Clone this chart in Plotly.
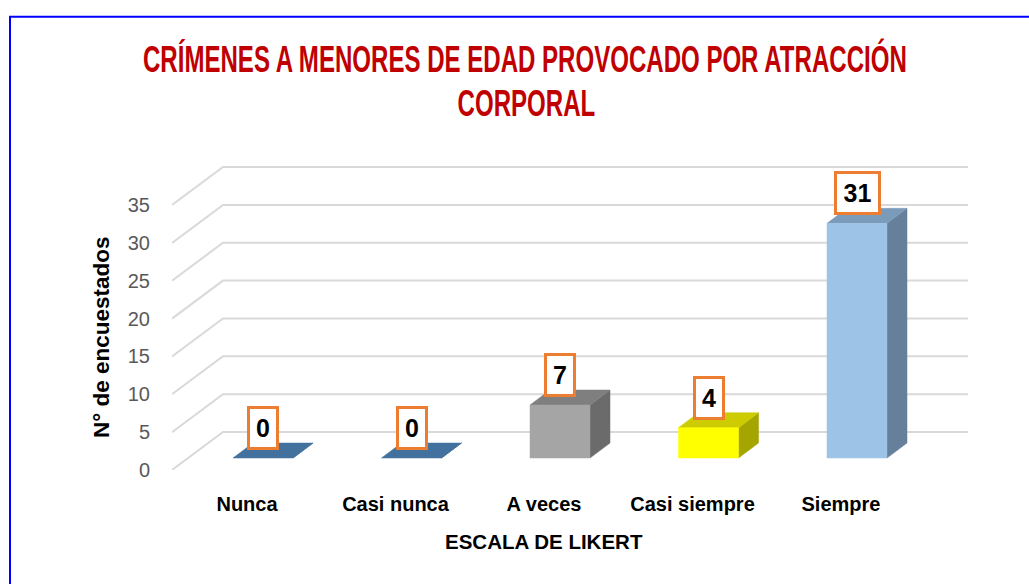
import json
import plotly.graph_objects as go

# ---------------- data ----------------
categories = ["Nunca", "Casi nunca", "A veces", "Casi siempre", "Siempre"]
values = [0, 0, 7, 4, 31]
y_ticks = [0, 5, 10, 15, 20, 25, 30, 35]
title_lines = ["CRÍMENES A MENORES DE EDAD PROVOCADO POR ATRACCIÓN", "CORPORAL"]
x_title = "ESCALA DE LIKERT"
y_title = "N° de encuestados"

# ---------------- styles ----------------
front_colors = ["#5B9BD5", "#5B9BD5", "#A5A5A5", "#FFFF00", "#9DC3E6"]
top_colors = ["#41719C", "#41719C", "#7F7F7F", "#CCCC00", "#7B9BBA"]
side_colors = ["#41719C", "#41719C", "#6B6B6B", "#A5A500", "#667F9A"]
GRID = "#D9D9D9"

W, H = 1029, 584
PL, PR, PT, PB = 172, 980, 150, 470      # plot area in px
XC0, XS = 263.0, 148.5                   # px of category 0, px per category
Y0, YS = 458.0, 7.57                     # px of value 0 on bar plane, px per unit

x_range = [(PL - XC0) / XS, (PR - XC0) / XS]
y_range = [(Y0 - PB) / YS, (Y0 - PT) / YS]

# depth offsets (px -> data units)
FRONT_DX, FRONT_DY = -16 / XS, -12 / YS
BACK_DX, BACK_DY = 35 / XS, 26 / YS
BAR_HW = 30 / XS
BAR_DX, BAR_DY = 20 / XS, 15 / YS
BACK_RIGHT = (968 - XC0) / XS


def xp(px):
    return (px - PL) / (PR - PL)


def yp(py):
    return (PB - py) / (PB - PT)


fig = go.Figure()

# gridlines: side-wall diagonals + back-wall horizontals
xl_front = x_range[0]
xl_back = x_range[0] + (BACK_DX - FRONT_DX)
for v in y_ticks:
    fig.add_trace(go.Scatter(
        x=[xl_front, xl_back, BACK_RIGHT],
        y=[v + FRONT_DY, v + BACK_DY, v + BACK_DY],
        mode="lines", line=dict(color=GRID, width=2),
        hoverinfo="skip", showlegend=False))

# 3D bars
for i, v in enumerate(values):
    xl, xr = i - BAR_HW, i + BAR_HW
    # side
    fig.add_trace(go.Scatter(
        x=[xr, xr + BAR_DX, xr + BAR_DX, xr, xr],
        y=[0, BAR_DY, v + BAR_DY, v, 0],
        fill="toself", fillcolor=side_colors[i], mode="lines",
        line=dict(color=side_colors[i], width=0.5),
        hoverinfo="skip", showlegend=False))
    # top
    fig.add_trace(go.Scatter(
        x=[xl, xr, xr + BAR_DX, xl + BAR_DX, xl],
        y=[v, v, v + BAR_DY, v + BAR_DY, v],
        fill="toself", fillcolor=top_colors[i], mode="lines",
        line=dict(color=top_colors[i], width=0.5),
        hoverinfo="skip", showlegend=False))
    # front
    if v > 0:
        fig.add_trace(go.Scatter(
            x=[xl, xr, xr, xl, xl],
            y=[0, 0, v, v, 0],
            fill="toself", fillcolor=front_colors[i], mode="lines",
            line=dict(color=front_colors[i], width=0.5),
            hoverinfo="skip", showlegend=False))

# invisible trace on the front-plane axes (category labels / ticks)
fig.add_trace(go.Scatter(
    x=list(range(len(categories))), y=values, xaxis="x2", yaxis="y2",
    mode="markers", marker=dict(opacity=0), hoverinfo="skip", showlegend=False))

# data labels
for i, v in enumerate(values):
    n = len(str(v))
    fig.add_annotation(
        x=i, y=v, xref="x", yref="y", text="<b>%d</b>" % v, showarrow=False,
        yanchor="bottom", yshift=8, xanchor="center",
        font=dict(family="Liberation Sans", size=25, color="black"),
        bgcolor="white", bordercolor="#ED7D31", borderwidth=3, borderpad=0,
        width=15 * n + 11, height=38)

LABEL_FONT = dict(family="Liberation Sans", size=20, color="black")

fig.update_layout(
    width=W, height=H,
    margin=dict(l=PL, r=W - PR, t=PT, b=H - PB, pad=0),
    paper_bgcolor="white", plot_bgcolor="white",
    xaxis=dict(range=x_range, visible=False, fixedrange=True),
    yaxis=dict(range=y_range, visible=False, fixedrange=True),
    xaxis2=dict(range=[x_range[0] - FRONT_DX, x_range[1] - FRONT_DX],
                overlaying="x", anchor="y2", side="bottom",
                tickvals=list(range(len(categories))),
                ticktext=["<b>%s</b>" % c for c in categories],
                tickfont=LABEL_FONT, showgrid=False, zeroline=False,
                showline=False, ticks="outside", ticklen=16,
                tickcolor="rgba(0,0,0,0)", fixedrange=True),
    yaxis2=dict(range=[y_range[0] - FRONT_DY, y_range[1] - FRONT_DY],
                overlaying="y", anchor="x2", side="left",
                tickvals=y_ticks, tickfont=dict(family="Liberation Sans", size=20, color="#595959"),
                showgrid=False, zeroline=False, showline=False,
                ticks="outside", ticklen=17, tickcolor="rgba(0,0,0,0)", fixedrange=True),
    showlegend=False,
)

# title (two lines, condensed afterwards to mimic the narrow display face)
TITLE_FONT = dict(family="Liberation Sans", size=26, color="#C00000")
fig.add_annotation(
    xref="paper", yref="paper", x=xp(525), y=yp(59), yanchor="middle", xanchor="center",
    text="<b>%s</b>" % title_lines[0], showarrow=False, font=TITLE_FONT)
fig.add_annotation(
    xref="paper", yref="paper", x=xp(526), y=yp(102.5), yanchor="middle", xanchor="center",
    text="<b>%s</b>" % title_lines[1], showarrow=False, font=TITLE_FONT)

# axis titles
fig.add_annotation(
    xref="paper", yref="paper", x=xp(544), y=yp(541), xanchor="center", yanchor="middle",
    text="<b>%s</b>" % x_title, showarrow=False,
    font=dict(family="Liberation Sans", size=20.5, color="black"))
fig.add_annotation(
    xref="paper", yref="paper", x=xp(101), y=yp(337), xanchor="center", yanchor="middle",
    text="<b>%s</b>" % y_title, showarrow=False, textangle=-90,
    font=dict(family="Liberation Sans", size=22.5, color="black"))

# blue frame
fig.add_shape(type="rect", xref="paper", yref="paper",
              x0=xp(10), x1=xp(1045), y0=yp(16.7), y1=yp(600),
              line=dict(color="#0000FF", width=2), fillcolor="rgba(0,0,0,0)", layer="above")

post = """
document.body.style.margin='0';
(function(){
  var lines = %s;
  var targetW = 764, capH = 26.5, fs = 26;
  var sy = capH / (0.716 * fs);
  var gd = document.getElementById('{plot_id}');
  var texts = gd.querySelectorAll('text.annotation-text');
  var sx = null;
  var found = [];
  texts.forEach(function(t){
    var idx = lines.indexOf(t.textContent);
    if (idx >= 0) { found[idx] = t; }
  });
  if (found[0]) { sx = targetW / found[0].getBBox().width; }
  found.forEach(function(t){
    if (!t || sx === null) return;
    var bb = t.getBBox();
    var cx = bb.x + bb.width / 2, cy = bb.y + bb.height / 2;
    t.setAttribute('transform', 'translate(' + cx + ',' + cy + ') scale(' + sx + ',' + sy + ') translate(' + (-cx) + ',' + (-cy) + ')');
  });
})();
""" % json.dumps(title_lines)

fig.write_html("out.html", config={"displayModeBar": False}, post_script=post)
